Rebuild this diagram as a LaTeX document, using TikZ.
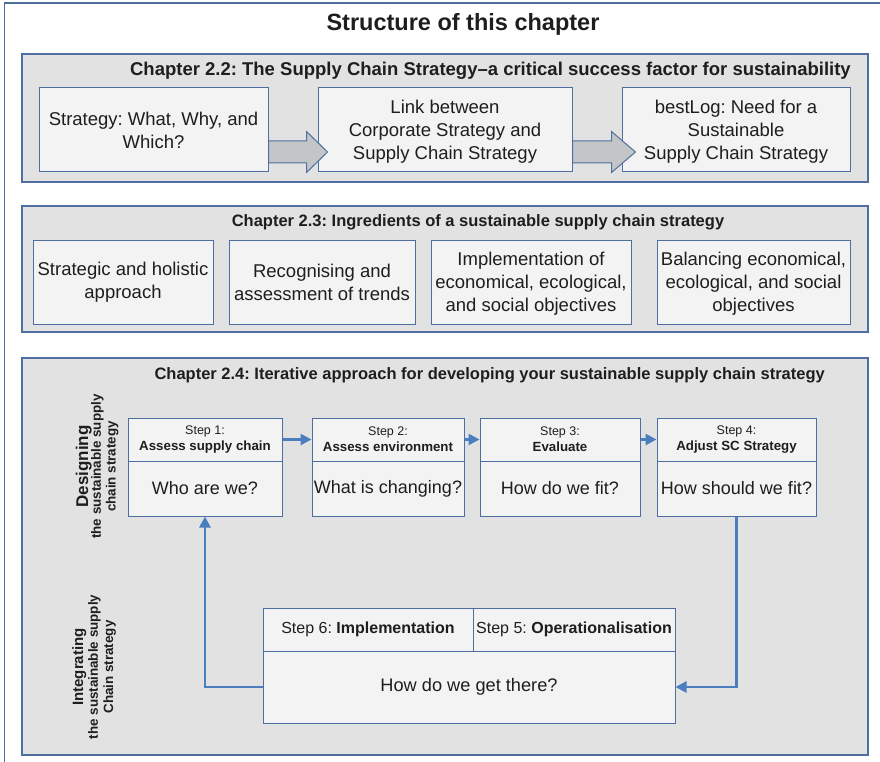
\documentclass[tikz,border=0pt]{standalone}
\usepackage{fontspec}
\setmainfont{Liberation Sans}
\usetikzlibrary{arrows.meta,calc}

\definecolor{frameblue}{HTML}{4F6FA0}
\definecolor{panelgray}{HTML}{E2E2E2}
\definecolor{boxfill}{HTML}{F3F3F3}
\definecolor{flowblue}{HTML}{4A7EBF}
\definecolor{arrowgray}{HTML}{C3C6C6}
\definecolor{ink}{HTML}{1E1E1E}

\newcommand\setfs[2]{\fontsize{#1}{#2}\selectfont}
\frenchspacing

\begin{document}
\begin{tikzpicture}[x=1pt,y=-1pt,
  panel/.style={draw=frameblue, fill=panelgray, line width=1.2pt, inner sep=0pt,
    minimum width=846pt},
  ibox/.style={draw=frameblue, fill=boxfill, line width=1pt, inner sep=1pt,
    align=center, text=ink, font=\setfs{18.5}{23}},
  heading/.style={text=ink, inner sep=0pt, font=\bfseries\setfs{18.5}{20}},
  stephead/.style={ibox, minimum height=43pt, font=\setfs{12.5}{16}},
  stepbody/.style={ibox, minimum height=55pt, font=\setfs{18}{22}},
  sidelabel/.style={rotate=90, text=ink, inner sep=0pt, font=\bfseries},
  flow/.style={draw=flowblue, line width=2.6pt,
    -{Triangle[length=11pt,width=11pt]}},
  bigarrow/.style={draw=frameblue, fill=arrowgray, line width=1pt, line join=miter}
]
\useasboundingbox (0,0) rectangle (880,762);

% outer frame, open to the right and below
\draw[frameblue, line width=1.2pt] (880,3) -- (4.5,3) -- (4.5,762);

\node[text=ink, font=\bfseries\setfs{23.5}{26}] (title) at (463,24.5) {Structure of this chapter};

% ---------- Chapter 2.2 ----------
\node[panel, minimum height=128pt] (p22) at (445,118) {};
\node[heading, anchor=east] (h22) at (851,70.5)
  {Chapter 2.2: The Supply Chain Strategy--a critical success factor for sustainability};
\node[ibox, minimum width=229pt, minimum height=84pt] (b1) at (153.5,130)
  {Strategy: What, Why, and\\Which?};
\node[ibox, minimum width=254pt, minimum height=84pt] (b2) at (445,130)
  {\strut Link between\\Corporate Strategy and\\Supply Chain Strategy};
\node[ibox, minimum width=228pt, minimum height=84pt] (b3) at (736,130)
  {\strut bestLog: Need for a\\Sustainable\\Supply Chain Strategy};

\draw[bigarrow] ([yshift=-11pt]b1.east) -- ++(38,0) -- ++(0,-9.5) -- ++(21,20.5)
  -- ++(-21,20.5) -- ++(0,-9.5) -- ++(-38,0) -- cycle;
\draw[bigarrow] ([yshift=-11pt]b2.east) -- ++(39,0) -- ++(0,-9.5) -- ++(24,20.5)
  -- ++(-24,20.5) -- ++(0,-9.5) -- ++(-39,0) -- cycle;

% ---------- Chapter 2.3 ----------
\node[panel, minimum height=126pt] (p23) at (445,269) {};
\node[heading, font=\bfseries\setfs{16.5}{18}] (h23) at (478,222.5)
  {Chapter 2.3: Ingredients of a sustainable supply chain strategy};
\node[ibox, minimum width=180pt, minimum height=84pt] (c1) at (123,282)
  {Strategic and holistic\\approach};
\node[ibox, minimum width=186pt, minimum height=84pt] (c2) at (322,282)
  {Recognising and\\assessment of trends};
\node[ibox, minimum width=200pt, minimum height=84pt] (c3) at (531,282)
  {\strut Implementation of\\economical, ecological,\\and social objectives};
\node[ibox, minimum width=193pt, minimum height=84pt] (c4) at (753.5,282)
  {\strut Balancing economical,\\ecological, and social\\objectives};

% ---------- Chapter 2.4 ----------
\node[panel, minimum height=397pt] (p24) at (445,556.5) {};
\node[heading, anchor=east, font=\bfseries\setfs{16.5}{18}] (h24) at (825,375)
  {Chapter 2.4: Iterative approach for developing your sustainable supply chain strategy};

% rotated phase labels
\node[sidelabel] (design) at (97.5,466.5)
  {\begin{tabular}{@{}c@{}}
     \setfs{17}{17}Designing\\[-0.5pt]
     \setfs{13.4}{16}the sustainable supply\\[1.5pt]
     \setfs{13.4}{16}chain strategy
   \end{tabular}};
\node[sidelabel] (integr) at (94.5,667)
  {\begin{tabular}{@{}c@{}}
     \setfs{15}{17}Integrating\\[1.5pt]
     \setfs{13.4}{16}the sustainable supply\\[2pt]
     \setfs{13.4}{16}Chain strategy
   \end{tabular}};

% steps 1--4
\node[stephead, minimum width=154pt] (s1h) at (205,439.5)
  {Step 1:\\\setfs{13.3}{16}\textbf{Assess supply chain}};
\node[stepbody, minimum width=154pt] (s1b) at (205,488.5) {Who are we?};
\node[stephead, minimum width=152pt] (s2h) at (388,439.5)
  {Step 2:\\\setfs{13.3}{16}\textbf{Assess environment}};
\node[stepbody, minimum width=152pt] (s2b) at (388,488.5) {What is changing?};
\node[stephead, minimum width=160pt] (s3h) at (560,439.5)
  {Step 3:\\\setfs{13.3}{16}\textbf{Evaluate}};
\node[stepbody, minimum width=160pt] (s3b) at (560,488.5) {How do we fit?};
\node[stephead, minimum width=159pt] (s4h) at (736.5,439.5)
  {Step 4:\\\setfs{13.3}{16}\textbf{Adjust SC Strategy}};
\node[stepbody, minimum width=159pt] (s4b) at (736.5,488.5) {How should we fit?};

% steps 5--6
\node[stephead, minimum width=210pt, font=\setfs{16}{18}] (s6) at (368,629.5)
  {Step 6: \textbf{Implementation}};
\node[stephead, minimum width=202pt, font=\setfs{16}{18}] (s5) at (574,629.5)
  {Step 5: \textbf{Operationalisation}};
\node[ibox, minimum width=412pt, minimum height=72pt, font=\setfs{18.2}{22}] (gb) at (469,687)
  {How do we get there?};

% iteration flow
\draw[flow] (s1h.east) -- (s2h.west);
\draw[flow] (s2h.east) -- (s3h.west);
\draw[flow] (s3h.east) -- (s4h.west);
\draw[flow] (s4b.south) |- (gb.east);
\draw[flow] (gb.west) -| (s1b.south);
\end{tikzpicture}
\end{document}
